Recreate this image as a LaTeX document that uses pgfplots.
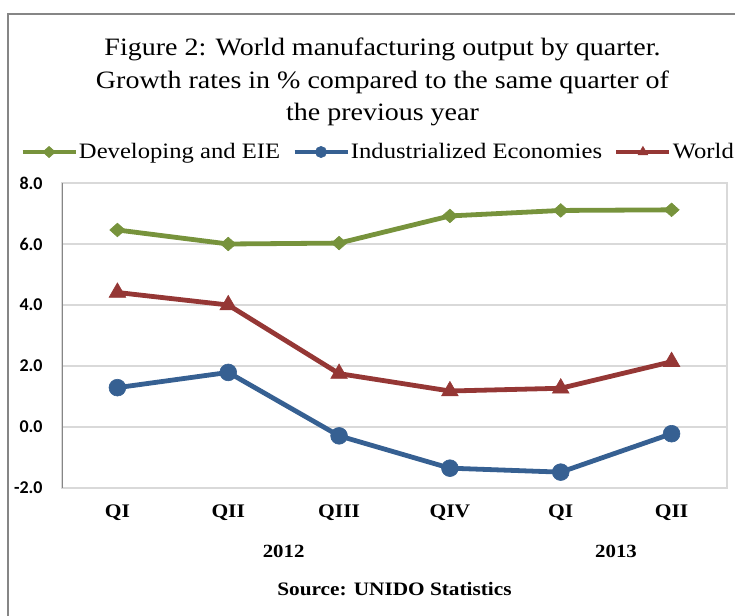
\documentclass[border=0pt]{standalone}
\usepackage{fontspec}
\setmainfont{Liberation Serif}[FakeStretch=1.12]
\newfontfamily\tickfont{Carlito}
\usepackage{pgfplots}
\pgfplotsset{compat=1.18}
\definecolor{devgreen}{RGB}{119,147,60}
\definecolor{indblue}{RGB}{54,96,146}
\definecolor{worldred}{RGB}{149,55,53}
\definecolor{gridgray}{RGB}{217,217,217}
\definecolor{axisgray}{RGB}{134,134,134}
\definecolor{framegray}{RGB}{134,134,134}
\begin{document}
\begin{tikzpicture}
\draw[framegray,line width=1pt] (3.75pt,-50pt) -- (3.75pt,300.75pt) -- (450pt,300.75pt);
\node[align=center,font=\fontsize{12.5}{16.25}\selectfont] at (191.25pt,267pt)
  {Figure 2: World manufacturing output by quarter.\\Growth rates in \% compared to the same quarter of\\the previous year};
\begin{axis}[
  at={(31pt,64pt)}, anchor=south west, scale only axis,
  width=332.5pt, height=152.5pt,
  xmin=-0.5, xmax=5.5, ymin=-2, ymax=8,
  xtick={0,...,5}, xticklabels={QI,QII,QIII,QIV,QI,QII},
  ytick={-2,0,2,4,6,8}, yticklabels={-2.0,0.0,2.0,4.0,6.0,8.0},
  major tick length=0pt,
  ymajorgrids, grid style={gridgray, line width=0.75pt},
  axis line style={gridgray, line width=0.75pt},
  xticklabel style={font=\fontsize{9.6}{11}\selectfont\bfseries, anchor=base, yshift=-15pt},
  yticklabel style={font=\tickfont\bfseries\fontsize{9}{11}\selectfont, anchor=east, inner sep=0pt, xshift=-9.5pt},
  legend columns=3,
  legend style={at={(0.4767,1.1016)}, anchor=center, draw=none, fill=none, inner sep=0pt,
    font=\fontsize{11}{13}\selectfont,
    /tikz/every odd column/.append style={column sep=-1.5pt},
    /tikz/every even column/.append style={column sep=4pt}},
  legend image code/.code={\draw[mark repeat=2,mark phase=2,#1] plot coordinates {(0pt,0pt)(13.25pt,0pt)(26.5pt,0pt)};},
  legend image post style={mark size=2.8pt},
]
\addplot[devgreen, line width=2.4pt, mark=diamond*, mark size=3.4pt, mark options={solid, line width=0.3pt, xscale=1.5}]
  coordinates {(0,6.46)(1,6.0)(2,6.03)(3,6.92)(4,7.1)(5,7.12)};
\addlegendentry{Developing and EIE}
\addplot[indblue, line width=2.4pt, mark=*, mark size=4.2pt, mark options={solid, line width=0.3pt}]
  coordinates {(0,1.29)(1,1.79)(2,-0.29)(3,-1.35)(4,-1.48)(5,-0.22)};
\addlegendentry{Industrialized Economies}
\addplot[worldred, line width=2.4pt, mark=triangle*, mark size=4.8pt, mark options={solid, line width=0.3pt}]
  coordinates {(0,4.41)(1,4.0)(2,1.75)(3,1.18)(4,1.27)(5,2.14)};
\addlegendentry{World}
\draw[axisgray, line width=1pt] (rel axis cs:0,0) -- (rel axis cs:0,1);
\end{axis}
\node[font=\fontsize{9.3}{11}\selectfont\bfseries, anchor=base] at (141.8pt,29pt) {2012};
\node[font=\fontsize{9.3}{11}\selectfont\bfseries, anchor=base] at (308pt,29pt) {2013};
\node[font=\fontsize{9.5}{11}\selectfont\bfseries, anchor=base] at (197.25pt,10pt) {Source: UNIDO Statistics};
\pgfresetboundingbox
\path[use as bounding box] (0pt,0pt) rectangle (367.5pt,308pt);
\end{tikzpicture}
\end{document}
